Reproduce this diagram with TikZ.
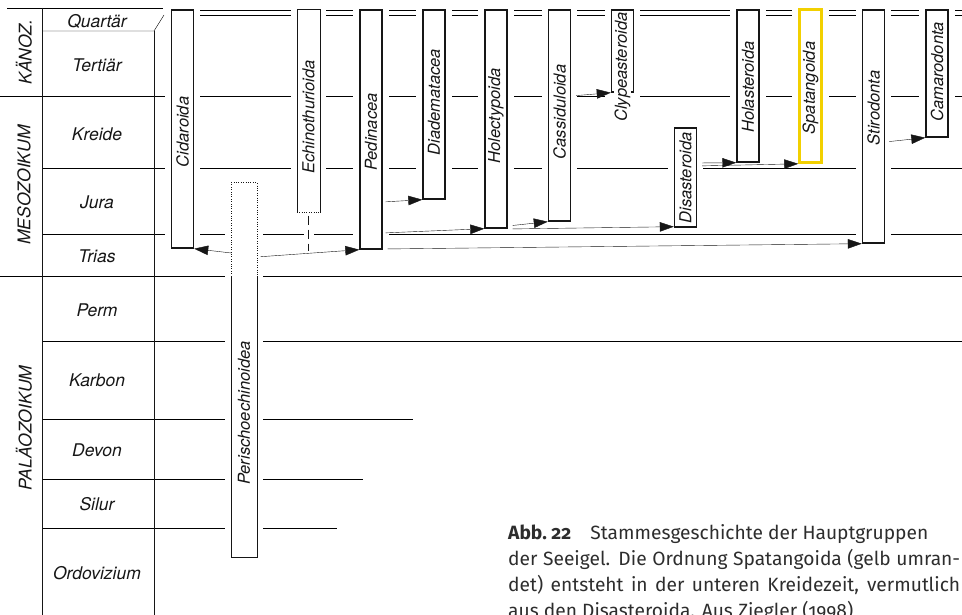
\documentclass[tikz,border=0pt]{standalone}
\usepackage{fontspec}
\setmainfont{TeX Gyre Heros}
\newfontfamily\capfont[Numbers=OldStyle]{Fira Sans}
\usetikzlibrary{arrows.meta}
\definecolor{ink}{RGB}{22,22,22}
\definecolor{capgray}{RGB}{45,45,45}
\definecolor{gelb}{RGB}{242,208,0}
\pgfdeclarelayer{bg}
\pgfdeclarelayer{gaps}
\pgfsetlayers{bg,gaps,main}

\begin{document}
\begin{tikzpicture}[
x=1pt, y=-1pt, line width=1.4pt, color=ink,
bar/.style={draw, fill=white, minimum width=22pt, inner sep=0pt},
lbl/.style={font=\fontsize{16.5}{18}\selectfont\itshape, rotate=90, inner sep=0.5pt},
per/.style={font=\fontsize{17.5}{20}\selectfont\itshape, inner sep=0pt},
era/.style={font=\fontsize{17.5}{20}\selectfont\itshape, rotate=90, inner sep=0pt},
arr/.style={-{Triangle[length=14pt,width=9.5pt]}, shorten <=3pt},
capt/.style={font=\capfont\fontsize{19.2}{26.2}\selectfont, text=capgray, text width=452pt, align=justify, inner sep=0pt}
]
\useasboundingbox (0,0) rectangle (962,615);
\clip (0,0) rectangle (962,615);

\node[era] (kaen) at (24,52) {KÄNOZ.};
\node[era] (meso) at (24,185) {MESOZOIKUM};
\node[era] (palae) at (24,428) {PALÄOZOIKUM};

\node[per] (quar) at (97,21) {Quartär};
\node[per] (tert) at (97,65) {Tertiär};
\node[per] (krei) at (97,134) {Kreide};
\node[per] (jura) at (97,202) {Jura};
\node[per] (trias) at (97,256) {Trias};
\node[per] (perm) at (97,310) {Perm};
\node[per] (karb) at (97,380) {Karbon};
\node[per] (devo) at (97,450) {Devon};
\node[per] (silu) at (97,504) {Silur};
\node[per] (ordo) at (97,573) {Ordovizium};

\node[bar, minimum height=238pt] (cid) at (182.5,129) {};
\node[bar, draw=none, minimum height=202pt] (ech) at (308.5,111) {};
\node[bar, minimum height=239pt] (ped) at (371,129.5) {};
\node[bar, minimum height=189pt] (dia) at (434,104.5) {};
\node[bar, minimum height=218pt] (hol) at (496,119) {};
\node[bar, minimum height=211pt] (cas) at (559.5,115.5) {};
\node[bar, minimum height=82pt] (cly) at (622.5,51) {};
\node[bar, minimum height=99pt] (dis) at (685.5,177.5) {};
\node[bar, minimum height=152pt] (hls) at (748,86) {};
\node[bar, draw=gelb, line width=2.6pt, minimum height=153pt] (spa) at (810.5,86) {};
\node[bar, minimum height=233pt] (sti) at (873.5,126.5) {};
\node[bar, minimum height=127pt] (cam) at (937,73.5) {};
\node[bar, draw=none, minimum width=24pt, minimum height=373pt] (peri) at (244,369.5) {};
\coordinate (echend) at (308.5,251);

\node[lbl] (cid-t) at (cid |- 0,132) {Cidaroida};
\node[lbl] (ech-t) at (ech |- 0,117) {Echinothurioida};
\node[lbl] (ped-t) at (ped |- 0,132) {Pedinacea};
\node[lbl] (dia-t) at (dia |- 0,102) {Diadematacea};
\node[lbl] (hol-t) at (hol |- 0,116) {Holectypoida};
\node[lbl] (cas-t) at (cas |- 0,112) {Cassiduloida};
\node[lbl, fill=white] (cly-t) at (cly |- 0,67) {Clypeasteroida};
\node[lbl] (dis-t) at (dis |- 0,178) {Disasteroida};
\node[lbl] (hls-t) at (hls |- 0,87) {Holasteroida};
\node[lbl] (spa-t) at (spa |- 0,88) {Spatangoida};
\node[lbl] (sti-t) at (sti |- 0,108) {Stirodonta};
\node[lbl] (cam-t) at (cam |- 0,72) {Camarodonta};
\node[lbl] (peri-t) at (peri |- 0,413) {Perischoechinoidea};

\begin{pgfonlayer}{bg}
\draw (7,8) -- (163,8);
\draw (166,10) -- (962,10) (166,15) -- (962,15);
\draw (42,31) -- (154,31) -- (164,15);
\draw (0,96) -- (962,96);
\draw (42,168) -- (962,168);
\draw (42,234) -- (962,234);
\draw (0,276) -- (962,276);
\draw (42,341) -- (962,341);
\draw (42,419) -- (413,419);
\draw (42,479) -- (363,479);
\draw (42,528) -- (337,528);
\end{pgfonlayer}

\begin{pgfonlayer}{gaps}
\foreach \b in {cid,ech,ped,dia,hol,cas,dis,hls,spa,sti,cam,peri}
  \fill[white] ([xshift=-6pt,yshift=4pt]\b.north west) rectangle ([xshift=6pt]\b.south east);
\fill[white] ([xshift=-6pt,yshift=4pt]cly.north west) rectangle ([xshift=6pt]cly.east |- 0,125);
\fill[white] ([xshift=-5pt]ech.south) rectangle ([xshift=5pt]echend);
\end{pgfonlayer}

\draw (42,8) -- (42,615);
\draw (154,31) -- (154,615);

\draw (ech.south west) -- (ech.north west) -- (ech.north east) -- (ech.south east);
\draw[dotted] (ech.south west) -- (ech.south east);
\draw[dash pattern=on 9pt off 5pt] ([yshift=-3pt]ech.south) -- (echend);
\draw[dotted] (peri.west |- 0,276) -- (peri.north west) -- (peri.north east) -- (peri.east |- 0,276);
\draw (peri.west |- 0,276) -- (peri.south west) -- (peri.south east) -- (peri.east |- 0,276);

\draw[arr, shorten <=0pt] (peri.west |- 0,253) -- (cid.south east);
\draw[arr, shorten <=4pt] (peri.east |- 0,257) -- (ped.south west);
\draw[arr] (ped.east |- 0,202) -- (dia.south west);
\draw[arr] (ped.east |- 0,233) -- (hol.south west);
\draw[arr, shorten <=5pt] (ped.east |- 0,249) -- (sti.south west);
\draw[arr, shorten <=5pt] (hol.east |- 0,226) -- (cas.south west);
\draw[arr, shorten <=5pt] (hol.east |- 0,229) -- ([yshift=1pt]dis.south west);
\draw[arr, shorten <=5pt] (cas.east |- 0,96) -- (cly.south west);
\draw[arr, shorten <=5pt] (dis.east |- 0,163) -- (hls.south west);
\draw[arr, shorten <=5pt] (dis.east |- 0,166) -- (spa.south west);
\draw[arr, shorten <=4pt] (sti.east |- 0,142) -- (cam.south west);

\node[capt, anchor=base west] (cap) at (508,539) {\textbf{Abb.~22}\quad Stammesgeschichte der Hauptgruppen\newline der Seeigel. Die Ordnung Spatangoida (gelb umran-\linebreak det) entsteht in der unteren Kreidezeit, vermutlich\linebreak aus den Disasteroida. Aus Ziegler (1998)};
\end{tikzpicture}
\end{document}
